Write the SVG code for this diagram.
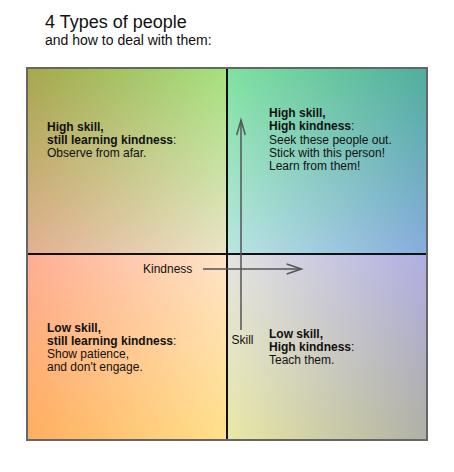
<svg xmlns="http://www.w3.org/2000/svg" width="454" height="472" viewBox="0 0 454 472">
<style>
text{font-family:"Liberation Sans",Arial,sans-serif;fill:#111}
.q{font-size:12px}
.b{font-weight:bold}
.ax{stroke:#555;stroke-width:1.5;fill:none}
</style>
<defs>
<linearGradient id="vf" x1="0" y1="0" x2="0" y2="1"><stop offset="0" stop-color="#000"/><stop offset="1" stop-color="#fff"/></linearGradient>
<mask id="vm" maskContentUnits="objectBoundingBox"><rect width="1" height="1" fill="url(#vf)"/></mask>
<linearGradient id="tlT"><stop offset="0" stop-color="#a6a84c"/><stop offset="1" stop-color="#a4e27f"/></linearGradient>
<linearGradient id="tlB"><stop offset="0" stop-color="#e2b092"/><stop offset="1" stop-color="#eae4c6"/></linearGradient>
<linearGradient id="trT"><stop offset="0" stop-color="#80e2a0"/><stop offset="1" stop-color="#50ae9e"/></linearGradient>
<linearGradient id="trB"><stop offset="0" stop-color="#bae6e2"/><stop offset="1" stop-color="#88acde"/></linearGradient>
<linearGradient id="blT"><stop offset="0" stop-color="#ffae96"/><stop offset="1" stop-color="#ffe4c8"/></linearGradient>
<linearGradient id="blB"><stop offset="0" stop-color="#ffae5e"/><stop offset="1" stop-color="#ffe08a"/></linearGradient>
<linearGradient id="brT"><stop offset="0" stop-color="#e4e4e2"/><stop offset="1" stop-color="#b0aee4"/></linearGradient>
<linearGradient id="brB"><stop offset="0" stop-color="#e8e8a6"/><stop offset="1" stop-color="#b0b0a4"/></linearGradient>
</defs>
<rect width="454" height="472" fill="#fff"/>
<g id="title">
<text x="45" y="28" font-size="18">4 Types of people</text>
<text x="45" y="45" font-size="14">and how to deal with them:</text>
</g>
<g id="q-tl">
<rect x="27" y="68" width="200" height="186" fill="url(#tlT)"/>
<rect x="27" y="68" width="200" height="186" fill="url(#tlB)" mask="url(#vm)"/>
<text class="q" x="47"><tspan class="b" x="47" y="131">High skill,</tspan><tspan x="47" y="144"><tspan class="b">still learning kindness</tspan>:</tspan><tspan x="47" y="157">Observe from afar.</tspan></text>
</g>
<g id="q-tr">
<rect x="227" y="68" width="200" height="186" fill="url(#trT)"/>
<rect x="227" y="68" width="200" height="186" fill="url(#trB)" mask="url(#vm)"/>
<text class="q"><tspan class="b" x="269" y="117">High skill,</tspan><tspan x="269" y="130.3"><tspan class="b">High kindness</tspan>:</tspan><tspan x="269" y="143.6">Seek these people out.</tspan><tspan x="269" y="156.9">Stick with this person!</tspan><tspan x="269" y="170.2">Learn from them!</tspan></text>
</g>
<g id="q-bl">
<rect x="27" y="254" width="200" height="186" fill="url(#blT)"/>
<rect x="27" y="254" width="200" height="186" fill="url(#blB)" mask="url(#vm)"/>
<text class="q"><tspan class="b" x="47" y="332">Low skill,</tspan><tspan x="47" y="345"><tspan class="b">still learning kindness</tspan>:</tspan><tspan x="47" y="358">Show patience,</tspan><tspan x="47" y="371">and don't engage.</tspan></text>
</g>
<g id="q-br">
<rect x="227" y="254" width="200" height="186" fill="url(#brT)"/>
<rect x="227" y="254" width="200" height="186" fill="url(#brB)" mask="url(#vm)"/>
<text class="q"><tspan class="b" x="269" y="337.5">Low skill,</tspan><tspan x="269" y="350.8"><tspan class="b">High kindness</tspan>:</tspan><tspan x="269" y="364">Teach them.</tspan></text>
</g>
<g id="frame">
<line x1="227" y1="68" x2="227" y2="440" stroke="#111" stroke-width="2"/>
<line x1="27" y1="254" x2="427" y2="254" stroke="#111" stroke-width="2"/>
<rect x="27" y="68" width="400" height="372" fill="none" stroke="#666" stroke-width="2"/>
</g>
<g id="connectors">
<line class="ax" x1="241" y1="330" x2="241" y2="120"/>
<polyline class="ax" points="236.7,135 241,120 245.3,135"/>
<line class="ax" x1="203" y1="269" x2="301" y2="269"/>
<polyline class="ax" points="286.7,264 301.5,269 286.7,274"/>
</g>
<g id="labels">
<text class="q" x="143" y="273">Kindness</text>
<text class="q" x="231.5" y="344">Skill</text>
</g>
</svg>
